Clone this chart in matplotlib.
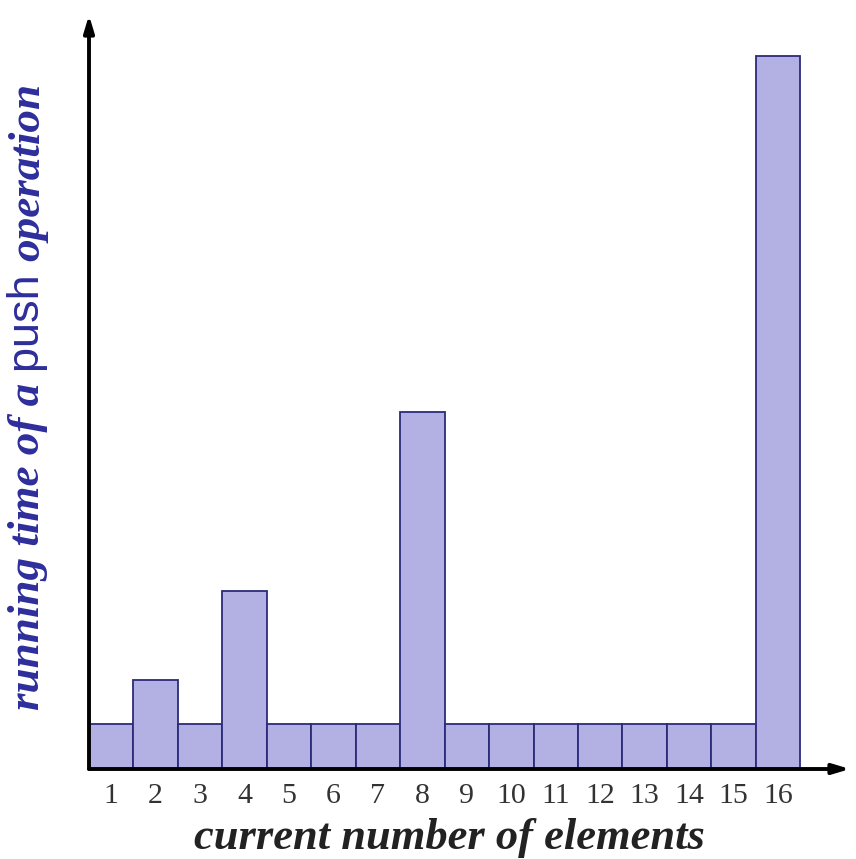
import matplotlib
matplotlib.use("Agg")
import matplotlib.pyplot as plt
import numpy as np

# data
n_elements = list(range(1, 17))
push_cost = [1, 2, 1, 4, 1, 1, 1, 8, 1, 1, 1, 1, 1, 1, 1, 16]
tick_labels = [str(n) for n in n_elements]

bar_color = "#b3b1e3"
edge_color = "#2b2b7a"
label_blue = "#2e2e9c"

fig = plt.figure(figsize=(8.56, 8.59), dpi=100)
ax = fig.add_axes([89 / 856, 1 - 769 / 859, (850 - 89) / 856, (769 - 15) / 859])

ax.bar(n_elements, push_cost, width=1.0, color=bar_color, edgecolor=edge_color, linewidth=1.3, zorder=2)
ax.set_xlim(0.5, 17.62)
ax.set_ylim(0, 16.92)

for s in ax.spines.values():
    s.set_visible(False)

# axis arrows
arrow = dict(arrowstyle="-|>,head_length=1.0,head_width=0.3", color="black", lw=2.8, shrinkA=0, shrinkB=0)
ax.annotate("", xy=(1, 0), xytext=(0, 0), xycoords="axes fraction", arrowprops=arrow, zorder=3)
ax.annotate("", xy=(0, 1), xytext=(0, 0), xycoords="axes fraction", arrowprops=arrow, zorder=3)

ax.set_yticks([])
ax.set_xticks(n_elements)
ax.set_xticklabels(tick_labels, family="Liberation Serif", fontsize=21.5, color="#333333")
ax.tick_params(axis="x", length=0, pad=10)

fig.text(449 / 856, 1 - 838 / 859, "current number of elements", family="Liberation Serif",
         fontsize=32, fontweight="bold", fontstyle="italic", color="#222222", ha="center", va="center")

# y label built from three pieces (serif bold italic / sans / serif bold italic)
parts = [("running time of a ", dict(family="Liberation Serif", fontweight="bold", fontstyle="italic")),
         ("push ", dict(family="Liberation Sans", fontweight="normal", fontstyle="normal")),
         ("operation", dict(family="Liberation Serif", fontweight="bold", fontstyle="italic"))]
fig.canvas.draw()
renderer = fig.canvas.get_renderer()
y_px = 710
for txt, kw in parts:
    t = fig.text(28 / 856, 1 - y_px / 859, txt, rotation=90, fontsize=32.5, color=label_blue,
                 ha="center", va="bottom", **kw)
    bb = t.get_window_extent(renderer)
    y_px -= bb.height

fig.savefig("out.png", dpi=100, facecolor="white")
